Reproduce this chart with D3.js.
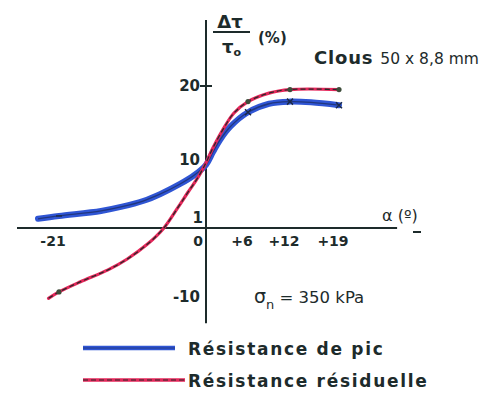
<!DOCTYPE html>
<html><head><meta charset="utf-8">
<script src="https://cdn.jsdelivr.net/npm/d3@7"></script>
<style>
body{margin:0;background:#fff;}
text{font-family:"DejaVu Sans",sans-serif;fill:#1d2b2b;}
</style></head>
<body><svg id="c" width="495" height="396"></svg>
<script>
// Data (alpha in degrees, Δτ/τ0 in %)
const xTicks = [-21, 0, 6, 12, 19];
const xTickLabels = ["-21", "0", "+6", "+12", "+19"];
const yTicks = [20, 10, 1, -10];
const yTickLabels = ["20", "10", "1", "-10"];
const picAlpha =  [-24, -21, -15, -12, -9, -6.5, -3.7, -1.6, 0, 1, 2, 3.5, 6, 9, 12, 15, 19];
const picValue =  [1.3, 1.7, 2.4, 3.0, 3.8, 4.8, 6.2, 7.5, 8.9, 10.7, 12.4, 14.3, 16.3, 17.5, 17.8, 17.7, 17.3];
const resAlpha =  [-22.5, -21, -18, -14, -11.3, -8.4, -6.1, -4, -2.6, -1.1, 0, 1, 2.5, 4, 6, 9, 12, 19];
const resValue =  [-9.9, -9.0, -7.6, -5.9, -4.4, -2.3, -0.1, 2.9, 5.0, 7.2, 9.2, 11.3, 14, 16.2, 17.8, 19, 19.5, 19.5];
const markerAlpha = [-21, 6, 12, 19];
const seriesNames = ["Résistance de pic", "Résistance résiduelle"];

const svg = d3.select("#c");
const x = d3.scaleLinear().domain([-21, 19]).range([59, 339]);
const y = d3.scaleLinear().domain([-10, 20]).range([299, 86]);

const axisCol = "#1d2b2b";
// axes
svg.append("line").attr("x1", x(-27)).attr("x2", x(27.3)).attr("y1", y(0)).attr("y2", y(0))
  .attr("stroke", axisCol).attr("stroke-width", 2.2);
svg.append("line").attr("x1", x(0)).attr("x2", x(0)).attr("y1", y(29.3)).attr("y2", y(-13.4))
  .attr("stroke", axisCol).attr("stroke-width", 2);
svg.append("line").attr("x1", x(0) - 6).attr("x2", x(0) + 6).attr("y1", y(20)).attr("y2", y(20))
  .attr("stroke", axisCol).attr("stroke-width", 2);
// small arrow mark under alpha label
svg.append("line").attr("x1", 413).attr("x2", 421).attr("y1", 232).attr("y2", 232)
  .attr("stroke", axisCol).attr("stroke-width", 2);

// tick labels
svg.selectAll(".xt").data(xTicks).enter().append("text")
  .attr("x", (d) => d === 0 ? x(0) - 8 : x(d) - 6).attr("y", y(0) + 18)
  .attr("text-anchor", "middle").attr("font-size", 14).attr("font-weight", "bold")
  .text((d, i) => xTickLabels[i]);
svg.selectAll(".yt").data(yTicks).enter().append("text")
  .attr("x", (d) => d === 1 ? x(0) - 3 : x(0) - 6)
  .attr("y", (d) => d === 1 ? y(0) - 5 : y(d) + 5 + (d === 10 ? 3 : 0) - (d === -10 ? 2 : 0))
  .attr("text-anchor", "end").attr("font-size", 15).attr("font-weight", "bold")
  .text((d, i) => yTickLabels[i]);

// curves
const line = d3.line().x((d) => x(d[0])).y((d) => y(d[1])).curve(d3.curveCatmullRom.alpha(0.5));
const pic = picAlpha.map((a, i) => [a, picValue[i]]);
const res = resAlpha.map((a, i) => [a, resValue[i]]);

svg.append("path").attr("d", line(pic)).attr("fill", "none")
  .attr("stroke", "#2f55d4").attr("stroke-width", 6).attr("stroke-linecap", "round");
svg.append("path").attr("d", line(pic)).attr("fill", "none")
  .attr("stroke", "#1b2a5a").attr("stroke-width", 1.3).attr("opacity", 0.7);
svg.append("path").attr("d", line(res)).attr("fill", "none")
  .attr("stroke", "#e5265a").attr("stroke-width", 3.2).attr("stroke-linecap", "round");
svg.append("path").attr("d", line(res)).attr("fill", "none")
  .attr("stroke", "#2a2a2a").attr("stroke-width", 1.3).attr("stroke-dasharray", "5,3");

// markers
const picAt = (a) => picValue[picAlpha.indexOf(a)];
const resAt = (a) => resValue[resAlpha.indexOf(a)];
svg.selectAll(".mr").data(markerAlpha).enter().append("circle")
  .attr("cx", (d) => x(d)).attr("cy", (d) => y(resAt(d))).attr("r", 2.6)
  .attr("fill", "#3d4d3a");
svg.selectAll(".mb").data(markerAlpha).enter().append("path")
  .attr("d", (d) => {
    const cx = x(d), cy = y(picAt(d)), s = 3;
    return d === -21 ? `M${cx - s},${cy}L${cx + s},${cy}` :
      `M${cx - s},${cy - s}L${cx + s},${cy + s}M${cx - s},${cy + s}L${cx + s},${cy - s}`;
  })
  .attr("stroke", "#1b2a4a").attr("stroke-width", 1.5);

// y axis label: Δτ / τ0 (%)
svg.append("text").attr("x", 230).attr("y", 28).attr("text-anchor", "middle")
  .attr("font-size", 18).attr("font-weight", "bold").text("Δτ");
svg.append("line").attr("x1", 213).attr("x2", 250).attr("y1", 32).attr("y2", 32)
  .attr("stroke", axisCol).attr("stroke-width", 2);
const t0 = svg.append("text").attr("x", 222).attr("y", 53).attr("font-size", 18).attr("font-weight", "bold");
t0.append("tspan").text("τ");
t0.append("tspan").attr("font-size", 11).attr("dy", 3).text("o");
svg.append("text").attr("x", 258).attr("y", 43).attr("font-size", 15).attr("font-weight", "bold").text("(%)");

// annotation
const cl = svg.append("text").attr("x", 314).attr("y", 64);
cl.append("tspan").attr("font-size", 18).attr("font-weight", "bold").attr("letter-spacing", 0.8).text("Clous ");
cl.append("tspan").attr("font-size", 15.5).text("50 x 8,8 mm");

svg.append("text").attr("x", 382).attr("y", 221).attr("font-size", 16).text("α (º)");

const sg = svg.append("text").attr("x", 254).attr("y", 303).attr("font-size", 19);
sg.append("tspan").text("σ");
sg.append("tspan").attr("font-size", 13).attr("dy", 6).text("n");
sg.append("tspan").attr("dy", -6).attr("font-size", 16.5).text(" = 350 kPa");

// legend
const legColors = ["#2f55d4", "#e5265a"];
const legY = [348, 380];
seriesNames.forEach((n, i) => {
  const xe = i === 0 ? 175 : 185;
  svg.append("line").attr("x1", 83).attr("x2", xe).attr("y1", legY[i]).attr("y2", legY[i])
    .attr("stroke", legColors[i]).attr("stroke-width", i === 0 ? 4.5 : 3.5);
  if (i === 1) svg.append("line").attr("x1", 83).attr("x2", xe).attr("y1", legY[i]).attr("y2", legY[i])
    .attr("stroke", "#2a2a2a").attr("stroke-width", 1.2).attr("stroke-dasharray", "5,3");
  else svg.append("line").attr("x1", 83).attr("x2", xe).attr("y1", legY[i]).attr("y2", legY[i])
    .attr("stroke", "#1b2a5a").attr("stroke-width", 1).attr("opacity", 0.6);
  svg.append("text").attr("x", 188).attr("y", legY[i] + 7).attr("font-size", 17)
    .attr("font-weight", "bold").attr("letter-spacing", 1.7).text(n);
});
</script></body></html>
